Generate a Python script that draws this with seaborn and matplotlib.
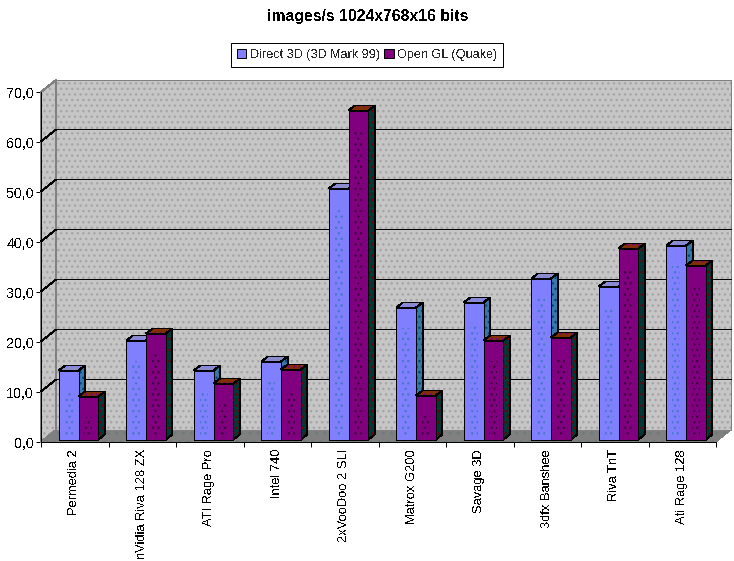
import matplotlib
matplotlib.use("Agg")
import matplotlib.pyplot as plt
import pandas as pd
import seaborn as sns
from matplotlib.patches import Polygon
from matplotlib.transforms import Affine2D, IdentityTransform

cards = ["Permedia 2", "nVidia Riva 128 ZX", "ATI Rage Pro", "Intel 740", "2xVooDoo 2 SLI",
         "Matrox G200", "Savage 3D", "3dfx Banshee", "Riva TnT", "Ati Rage 128"]
direct3d = [13.8, 19.8, 13.8, 15.6, 50.2, 26.4, 27.4, 32.2, 30.6, 38.8]
opengl = [8.6, 21.2, 11.2, 14.0, 65.8, 8.8, 19.8, 20.4, 38.2, 34.8]
series_names = ["Direct 3D (3D Mark 99)", "Open GL (Quake)"]
y_ticks = [0, 10, 20, 30, 40, 50, 60, 70]

W, H = 734, 561
LEFT, RIGHT, BOTTOM, TOP = 41, 716, 442, 92  # plot box, image pixels
WALL_DX, WALL_DY = 15, 12
BAR_DX, BAR_DY = 3.8, 2.5
DEPTH_DX, DEPTH_DY = 6.5, 5
ONE_PX = 0.72

sns.set_theme(style="white")
plt.rcParams["font.family"] = ["Liberation Sans", "DejaVu Sans"]
plt.rcParams["text.antialiased"] = False

df = pd.DataFrame({
    "card": cards * 2,
    "series": [series_names[0]] * 10 + [series_names[1]] * 10,
    "value": direct3d + opengl,
})

fig = plt.figure(figsize=(W / 100, H / 100), dpi=100, facecolor="white")
ax = fig.add_axes([LEFT / W, 1 - BOTTOM / H, (RIGHT - LEFT) / W, (BOTTOM - TOP) / H])
ax.patch.set_visible(False)

palette = {series_names[0]: "#8080FF", series_names[1]: "#800080"}
sns.barplot(data=df, x="card", y="value", hue="series", order=cards, hue_order=series_names,
            palette=palette, width=0.585, dodge=True, saturation=1, edgecolor="black",
            linewidth=ONE_PX, legend=False, ax=ax, zorder=5)
ax.set_xlim(-0.5, 9.5)
ax.set_ylim(0, 70)


def px(x, y):
    return (x, H - y)


def face(points, fc, ec="none", lw=0, hatch=None, z=1):
    p = Polygon([px(*q) for q in points], closed=True, facecolor=fc, edgecolor=ec, linewidth=lw,
                hatch=hatch, transform=IdentityTransform(), clip_on=False, zorder=z, antialiased=False)
    ax.add_patch(p)
    return p


# walls and floor
back_wall = [(LEFT + WALL_DX, TOP - WALL_DY), (RIGHT + WALL_DX, TOP - WALL_DY),
             (RIGHT + WALL_DX, BOTTOM - WALL_DY), (LEFT + WALL_DX, BOTTOM - WALL_DY)]
side_wall = [(LEFT, TOP), (LEFT + WALL_DX, TOP - WALL_DY), (LEFT + WALL_DX, BOTTOM - WALL_DY), (LEFT, BOTTOM)]
floor = [(LEFT, BOTTOM), (LEFT + WALL_DX, BOTTOM - WALL_DY), (RIGHT + WALL_DX, BOTTOM - WALL_DY), (RIGHT, BOTTOM)]
for wall in (back_wall, side_wall):
    face(wall, "#C6C6C6", ec="#A6A6A6", lw=0, hatch="...", z=1)
    face(wall, "none", ec="#808080", lw=ONE_PX, z=1.1)
face(floor, "#808080", z=1.5)
face(floor, "none", ec="#6E7C7C", lw=0, hatch="..", z=1.6)

# gridlines run across side wall and back wall
for t in y_ticks[1:-1]:
    y = ax.transData.transform((0, t))[1] + 0.5
    ax.plot([LEFT, LEFT + WALL_DX, RIGHT + WALL_DX], [y, y + WALL_DY, y + WALL_DY],
            color="black", lw=ONE_PX, transform=IdentityTransform(), clip_on=False, zorder=2, antialiased=False)

# shift the front faces onto the floor, then add top and side faces
shift = ax.transData + Affine2D().translate(BAR_DX, BAR_DY)
bars = sorted(list(ax.containers[0].patches) + list(ax.containers[1].patches), key=lambda b: b.get_x())
for i, bar in enumerate(bars):
    bar.set_transform(shift)
    bar.set_clip_on(False)
    bar.set_antialiased(False)
    is_d3d = i % 2 == 0
    (x0, y0), (x1, y1) = shift.transform([(bar.get_x(), 0), (bar.get_x() + bar.get_width(), bar.get_height())])
    y0, y1 = H - y0, H - y1
    top_c, top_dots = ("#8C8CC8", "#8080FF") if is_d3d else ("#803000", "#800080")
    side_c, side_dots = ("#3878A8", "#004880") if is_d3d else ("#003838", "#700000")
    dot_c = "#4A78C8" if is_d3d else "#400040"
    z = 3 + i * 0.1
    bar.set_zorder(z + 0.05)
    top = [(x0, y1), (x0 + DEPTH_DX, y1 - DEPTH_DY), (x1 + DEPTH_DX, y1 - DEPTH_DY), (x1, y1)]
    side = [(x1, y1), (x1 + DEPTH_DX, y1 - DEPTH_DY), (x1 + DEPTH_DX, y0 - DEPTH_DY), (x1, y0)]
    face(top, top_c, ec=top_dots, lw=0, hatch="...", z=z)
    face(top, "none", ec="black", lw=ONE_PX, z=z + 0.01)
    face(side, side_c, ec=side_dots, lw=0, hatch="...", z=z)
    face(side, "none", ec="black", lw=ONE_PX, z=z + 0.01)
    # sparse speckle in the middle of the front face
    w = x1 - x0
    face([(x0 + 0.3 * w, y1 + 20), (x1 - 0.3 * w, y1 + 20), (x1 - 0.3 * w, y0 - 3), (x0 + 0.3 * w, y0 - 3)],
         "none", ec=dot_c, lw=0, hatch="...", z=z + 0.06)

# axes
ax.set_xticks([i - 0.5 for i in range(11)])
ax.set_xticklabels([])
ax.set_yticks(y_ticks)
ax.set_yticklabels([f"{t},0" for t in y_ticks], fontsize=10.3, color="black")
ax.tick_params(axis="both", length=3.6, width=ONE_PX, color="black", direction="out", bottom=True, left=True, pad=1.5)
for s in ["top", "right"]:
    ax.spines[s].set_visible(False)
for s in ["left", "bottom"]:
    ax.spines[s].set_color("black")
    ax.spines[s].set_linewidth(ONE_PX)
    ax.spines[s].set_zorder(6)
ax.set_xlabel("")
ax.set_ylabel("")

for i, name in enumerate(cards):
    ax.annotate(name, xy=(i, 0), xycoords="data", xytext=(-0.5, -7), textcoords="offset pixels",
                rotation=90, ha="center", va="top", fontsize=9.3, color="black", annotation_clip=False)

fig.text(367.5 / W, 1 - 16 / H, "images/s 1024x768x16 bits", ha="center", va="center",
         fontsize=11.3, fontweight="bold", color="black")

handles = [plt.Rectangle((0, 0), 1, 1, facecolor=palette[n], edgecolor="black", linewidth=ONE_PX) for n in series_names]
leg = fig.legend(handles, series_names, loc="center", bbox_to_anchor=(367 / W, 1 - 55 / H), ncol=2,
                 fontsize=9.1, frameon=True, fancybox=False, edgecolor="black", framealpha=1,
                 handlelength=0.75, handleheight=0.75, handletextpad=0.25, columnspacing=0.35,
                 borderpad=0.5, borderaxespad=0)
leg.get_frame().set_linewidth(ONE_PX)

fig.savefig("out.png", dpi=100, facecolor="white")
